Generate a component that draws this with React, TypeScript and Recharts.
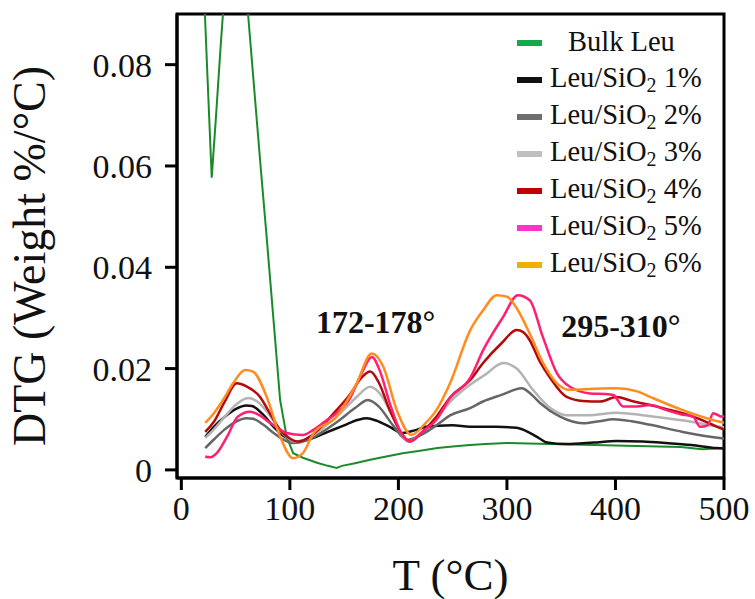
import React from 'react';
import { LineChart, Line, XAxis, YAxis, Legend, ReferenceArea, ReferenceDot } from 'recharts';

type Pt = [number, number];

// DTG curves, [T (°C), DTG (wt%/°C)]
const bulkLeu: Pt[] = [
  [20, 0.099], [24, 0.078], [28, 0.0577], [32, 0.07], [36, 0.083], [40, 0.095], [46, 0.104],
  [52, 0.105], [57, 0.099], [61.5, 0.0899], [68, 0.073], [73, 0.06], [78, 0.0475], [84, 0.032],
  [91, 0.0138], [97, 0.0066], [103, 0.0033], [112, 0.0024], [125, 0.0014], [135, 0.0008],
  [143, 0.0004], [148, 0.0008], [160, 0.0013], [174, 0.002], [190, 0.0027], [204, 0.0033],
  [220, 0.0038], [236, 0.0043], [250, 0.0046], [266, 0.0049], [280, 0.0051], [300, 0.0053],
  [320, 0.0052], [340, 0.0051], [360, 0.005], [380, 0.0049], [400, 0.0048], [420, 0.0047],
  [440, 0.0046], [460, 0.0045], [480, 0.0041], [500, 0.0043],
];

const leu1: Pt[] = [
  [22, 0.0065], [30, 0.0085], [40, 0.0105], [50, 0.012], [60, 0.0127], [65, 0.0126], [75, 0.011],
  [85, 0.0085], [95, 0.0066], [106, 0.0056], [120, 0.0062], [135, 0.0075], [150, 0.0088],
  [163, 0.0099], [171, 0.0102], [180, 0.0097], [192, 0.0085], [204, 0.0073], [215, 0.0078],
  [225, 0.0085], [236, 0.0087], [250, 0.0088], [266, 0.0085], [290, 0.0085], [309, 0.0083],
  [321, 0.0073], [330, 0.0062], [337, 0.0054], [355, 0.0051], [380, 0.0054], [401, 0.0057],
  [425, 0.0056], [447, 0.0053], [470, 0.0049], [493, 0.0043], [500, 0.0042],
];

const leu2: Pt[] = [
  [22, 0.0043], [30, 0.006], [40, 0.008], [50, 0.0095], [60, 0.0102], [66, 0.0101], [75, 0.009],
  [85, 0.0073], [95, 0.0059], [103, 0.0053], [115, 0.0058], [130, 0.0075], [145, 0.0097],
  [160, 0.0122], [172, 0.0138], [182, 0.0125], [195, 0.0088], [208, 0.0059], [220, 0.0068],
  [235, 0.0088], [248, 0.0108], [266, 0.0122], [278, 0.0135], [295, 0.0148], [313.6, 0.0161],
  [322, 0.015], [330.5, 0.0132], [349, 0.0105], [370, 0.0092], [385, 0.0096], [398, 0.01],
  [415, 0.0096], [432, 0.0089], [462, 0.0075], [496, 0.0063], [500, 0.0062],
];

const leu3: Pt[] = [
  [22, 0.0063], [30, 0.008], [40, 0.0105], [50, 0.0128], [61.5, 0.0142], [70, 0.0135], [80, 0.0112],
  [92, 0.0075], [105, 0.0056], [118, 0.0064], [132, 0.0085], [148, 0.0115], [162, 0.0145],
  [174, 0.0164], [184, 0.0148], [196, 0.01], [209, 0.0056], [222, 0.0075], [236, 0.0105],
  [248, 0.0135], [266, 0.0168], [280, 0.0188], [296.5, 0.0211], [303, 0.0208], [309, 0.02],
  [324, 0.0158], [340, 0.0122], [355, 0.0108], [375, 0.0108], [401, 0.0113], [425, 0.0108],
  [447, 0.0102], [470, 0.0095], [496, 0.0085], [500, 0.0084],
];

const leu4: Pt[] = [
  [22, 0.0075], [30, 0.0095], [40, 0.0135], [51, 0.0171], [60, 0.0165], [72.5, 0.0144], [82, 0.011],
  [91, 0.0079], [100, 0.0062], [107.5, 0.0056], [120, 0.0068], [132, 0.0092], [143, 0.0118],
  [155, 0.0148], [166, 0.0182], [174, 0.0194], [182, 0.0172], [192, 0.0118], [202, 0.0075],
  [210.7, 0.0056], [222, 0.0075], [235, 0.0105], [248, 0.0144], [266, 0.0177], [278, 0.0211],
  [295, 0.025], [309, 0.0276], [315, 0.0272], [321, 0.0256], [330, 0.0215], [340, 0.0181],
  [355, 0.0144], [370, 0.0136], [386, 0.0135], [401, 0.0144], [415, 0.0136], [432, 0.0128],
  [447, 0.012], [462, 0.0112], [480, 0.0098], [496, 0.0083], [500, 0.008],
];

const leu5: Pt[] = [
  [22, 0.0026], [27, 0.0025], [32.6, 0.0033], [42, 0.0065], [52, 0.0105], [63.3, 0.0115], [72, 0.0108],
  [81.7, 0.0093], [97, 0.0073], [112, 0.0069], [121.5, 0.0079], [132, 0.0095], [143, 0.0112],
  [155, 0.014], [166, 0.019], [175.5, 0.0223], [183, 0.0195], [192, 0.0132], [202, 0.0075],
  [210.7, 0.0056], [222, 0.0075], [235, 0.0099], [247.6, 0.0142], [266, 0.0181], [278, 0.0236],
  [296.5, 0.0302], [310, 0.0345], [321, 0.0335], [333, 0.0263], [346, 0.0191], [358, 0.0164],
  [376.6, 0.0151], [390, 0.015], [398, 0.0148], [407, 0.0125], [419.6, 0.0125], [432, 0.0128],
  [447, 0.0118], [460, 0.011], [471.5, 0.0105], [478, 0.0085], [485, 0.0088], [490, 0.0112],
  [498, 0.0105], [500, 0.0106],
];

const leu6: Pt[] = [
  [22, 0.0093], [30, 0.0112], [38.4, 0.0138], [47.7, 0.0171], [58.7, 0.0197], [66, 0.0194],
  [78.7, 0.0144], [91, 0.0066], [103, 0.0023], [112, 0.0033], [121.7, 0.0072], [143, 0.0105],
  [161.6, 0.0171], [175.4, 0.023], [186, 0.0204], [198.5, 0.0118], [212, 0.0069], [224, 0.009],
  [235, 0.0118], [247.6, 0.0171], [266, 0.0275], [278, 0.0315], [290.6, 0.0345], [300, 0.0342],
  [309, 0.0319], [321, 0.0269], [333.6, 0.021], [346, 0.0171], [358, 0.0158], [380, 0.016],
  [401, 0.0161], [420, 0.0155], [432, 0.0144], [462, 0.0118], [496, 0.0095], [500, 0.0093],
];

const tempTicks = [0, 100, 200, 300, 400, 500];
const dtgTicks = [0, 0.02, 0.04, 0.06, 0.08];

const peakLabels = [
  { t: 179, v: 0.0292, text: '172-178°' },
  { t: 405, v: 0.0284, text: '295-310°' },
];

const series = [
  { name: 'Bulk Leu', pts: bulkLeu, color: '#1b8a2b', swatch: '#12a84c', width: 2, curve: 'linear' },
  { name: 'Leu/SiO2 1%', pts: leu1, color: '#111111', swatch: '#111111', width: 2.5, curve: 'monotone' },
  { name: 'Leu/SiO2 2%', pts: leu2, color: '#666666', swatch: '#6e6e6e', width: 2.5, curve: 'monotone' },
  { name: 'Leu/SiO2 3%', pts: leu3, color: '#b4b4b4', swatch: '#c0c0c0', width: 2.5, curve: 'monotone' },
  { name: 'Leu/SiO2 4%', pts: leu4, color: '#b40a0a', swatch: '#c00000', width: 2.5, curve: 'monotone' },
  { name: 'Leu/SiO2 5%', pts: leu5, color: '#ff1f73', swatch: '#ff33cc', width: 2.5, curve: 'monotone' },
  { name: 'Leu/SiO2 6%', pts: leu6, color: '#ff8c1f', swatch: '#f0b000', width: 2.5, curve: 'monotone' },
];

const FONT = '"Liberation Serif", "Times New Roman", serif';

const withSub = (name: string) => {
  const i = name.indexOf('SiO2');
  if (i < 0) return name;
  return (
    <>
      {name.slice(0, i)}SiO<sub style={{ fontSize: '0.7em', verticalAlign: '-0.25em' }}>2</sub>
      {name.slice(i + 4)}
    </>
  );
};

const renderLegend = () => (
  <div style={{ fontFamily: FONT, fontSize: 28.5, color: '#111' }}>
    {series.map((s, i) => (
      <div key={s.name} style={{ display: 'flex', alignItems: 'center', height: 37, lineHeight: 1 }}>
        <span style={{ display: 'inline-block', width: 25, height: 6, background: s.swatch }} />
        <span style={{ marginLeft: i === 0 ? 26 : 8, whiteSpace: 'nowrap' }}>{withSub(s.name)}</span>
      </div>
    ))}
  </div>
);

const App: React.FC = () => (
  <div style={{ position: 'fixed', left: 0, top: 0, background: '#fff' }}>
    <LineChart width={755} height={599} margin={{ top: 14, right: 31, left: 0, bottom: 0 }}>
      <XAxis
        type="number"
        dataKey="t"
        domain={[-4, 500]}
        ticks={tempTicks}
        allowDataOverflow
        height={121}
        tickSize={12}
        tickMargin={6}
        axisLine={{ stroke: '#000', strokeWidth: 3 }}
        tickLine={{ stroke: '#000', strokeWidth: 3 }}
        tick={{ fill: '#111', fontSize: 34, fontFamily: FONT }}
        label={({ viewBox }: any) => (
          <text x={viewBox.x + viewBox.width / 2} y={viewBox.y + 112} textAnchor="middle"
            fontSize={45} fontFamily={FONT} fill="#111">T (°C)</text>
        )}
      />
      <YAxis
        type="number"
        dataKey="v"
        domain={[-0.0016, 0.09]}
        ticks={dtgTicks}
        allowDataOverflow
        width={177}
        tickSize={12}
        tickMargin={13}
        tickFormatter={(v: number) => (v === 0 ? '0' : v.toFixed(2))}
        axisLine={{ stroke: '#000', strokeWidth: 3 }}
        tickLine={{ stroke: '#000', strokeWidth: 3 }}
        tick={{ fill: '#111', fontSize: 34, fontFamily: FONT }}
        label={({ viewBox }: any) => {
          const x = viewBox.x + 45;
          const y = viewBox.y + viewBox.height / 2 + 10;
          return (
            <text x={x} y={y} transform={`rotate(-90, ${x}, ${y})`} textAnchor="middle"
              fontSize={46} fontFamily={FONT} fill="#111">DTG (Weight %/°C)</text>
          );
        }}
      />
      <ReferenceArea x1={-4} x2={500} y1={-0.0016} y2={0.09} fill="none" stroke="#000" strokeWidth={3} />
      {series.map((s) => (
        <Line
          key={s.name}
          name={s.name}
          data={s.pts.map(([t, v]) => ({ t, v }))}
          dataKey="v"
          type={s.curve as any}
          stroke={s.color}
          strokeWidth={s.width}
          dot={false}
          isAnimationActive={false}
        />
      ))}
      {peakLabels.map((p) => (
        <ReferenceDot
          key={p.text}
          x={p.t}
          y={p.v}
          r={1}
          fill="none"
          stroke="none"
          label={{ value: p.text, position: 'center', fontSize: 32, fontWeight: 'bold', fontFamily: FONT, fill: '#111' }}
        />
      ))}
      <Legend
        layout="vertical"
        align="center"
        verticalAlign="middle"
        content={renderLegend}
        wrapperStyle={{ left: 517, top: 24, width: 'auto', height: 'auto' }}
      />
    </LineChart>
  </div>
);

export default App;
